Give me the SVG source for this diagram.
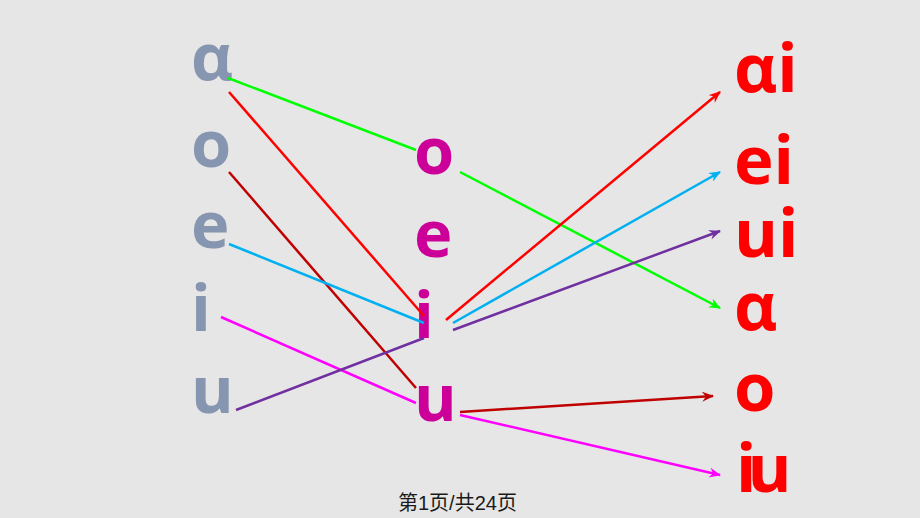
<svg xmlns="http://www.w3.org/2000/svg" width="920" height="518" viewBox="0 0 920 518">
<defs>
<style>
.l{font-family:"Open Sans","DejaVu Sans",sans-serif;font-weight:bold;font-size:65px;fill:#8796b0}
.m{font-family:"Open Sans","DejaVu Sans",sans-serif;font-weight:bold;font-size:65px;fill:#cc0099}
.r{font-family:"Open Sans","DejaVu Sans",sans-serif;font-weight:bold;font-size:67px;fill:#ff0000}
.c line{stroke-width:2.5;fill:none}
.foot{font-family:"Liberation Sans","Noto Sans CJK SC",sans-serif;font-size:20px;fill:#1a1a1a}
</style>
<marker id="ar" viewBox="0 0 12 10" refX="11" refY="5" markerWidth="12" markerHeight="10" markerUnits="userSpaceOnUse" orient="auto">
<path d="M0,0 L12,5 L0,10 L4,5 Z" fill="context-stroke"/>
</marker>
</defs>
<rect width="920" height="518" fill="#e6e6e6"/>
<g id="left">
<text class="l" x="191" y="80">α</text>
<text class="l" x="191" y="167">o</text>
<text class="l" x="191" y="248">e</text>
<text class="l" x="191" y="331">i</text>
<text class="l" x="191" y="413">u</text>
</g>
<g id="middle">
<text class="m" x="414" y="174">o</text>
<text class="m" x="414" y="257">e</text>
<text class="m" x="414" y="338">i</text>
<text class="m" x="414" y="421">u</text>
</g>
<g id="right">
<text class="r" x="734" y="92">αi</text>
<text class="r" x="734" y="184">ei</text>
<text class="r" x="734" y="257">ui</text>
<text class="r" x="734" y="330">α</text>
<text class="r" x="734" y="411">o</text>
<text class="r" x="736" y="492" letter-spacing="-9">iu</text>
</g>
<g id="connectors" class="c">
<line x1="228" y1="78" x2="416" y2="150" stroke="#00ff00"/>
<line x1="460" y1="172" x2="720" y2="308" stroke="#00ff00" marker-end="url(#ar)"/>
<line x1="229" y1="92" x2="424" y2="316" stroke="#ff0000"/>
<line x1="229" y1="172" x2="416" y2="388" stroke="#c00000"/>
<line x1="229" y1="244" x2="424" y2="323" stroke="#00b0f0"/>
<line x1="221" y1="317" x2="416" y2="403" stroke="#ff00ff"/>
<line x1="460" y1="415" x2="720" y2="475" stroke="#ff00ff" marker-end="url(#ar)"/>
<line x1="236" y1="410" x2="424" y2="338" stroke="#7030a0"/>
<line x1="446" y1="320" x2="720" y2="92" stroke="#ff0000" marker-end="url(#ar)"/>
<line x1="453" y1="323" x2="720" y2="172" stroke="#00b0f0" marker-end="url(#ar)"/>
<line x1="453" y1="330" x2="720" y2="231" stroke="#7030a0" marker-end="url(#ar)"/>
<line x1="460" y1="412" x2="713" y2="396" stroke="#c00000" marker-end="url(#ar)"/>
</g>
<text class="foot" x="398" y="510">第1页/共24页</text>
</svg>
